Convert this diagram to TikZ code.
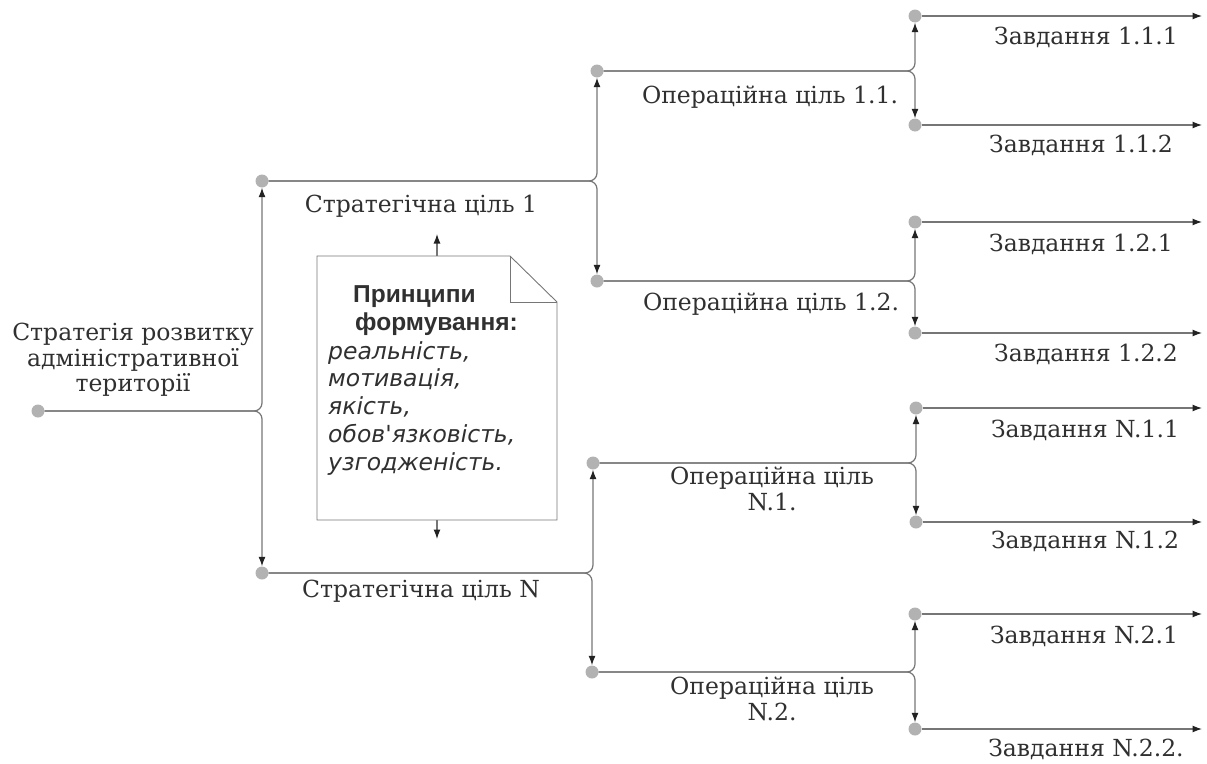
\documentclass[tikz,border=0pt]{standalone}
\usepackage{fontspec}
\setmainfont{DejaVu Serif}
\newfontfamily\headfont{Liberation Sans}
\newfontfamily\itemfont{DejaVu Sans}
\usetikzlibrary{arrows.meta}
\definecolor{linegray}{HTML}{767676}
\definecolor{dotgray}{HTML}{B2B2B2}
\definecolor{tipdark}{HTML}{222222}
\definecolor{inkgray}{HTML}{303030}
\begin{document}
\begin{tikzpicture}[x=1pt,y=-1pt,
  dot/.style={circle,fill=dotgray,draw=none,inner sep=0pt,minimum size=13pt},
  link/.style={draw=linegray,line width=1.2pt,rounded corners=8pt,
    -{Latex[length=9.5pt,width=7pt,color=tipdark]}},
  plain/.style={draw=linegray,line width=0.9pt},
  lbl/.style={font=\fontsize{23.5}{25.5}\selectfont,text=inkgray,align=center,inner sep=0pt},
  head/.style={font=\headfont\bfseries\fontsize{24.5}{28}\selectfont,text=inkgray,
    anchor=base west,inner sep=0pt},
  item/.style={font=\itemfont\itshape\fontsize{23.5}{28}\selectfont,text=inkgray,
    anchor=base west,inner sep=0pt}]
\useasboundingbox (0,0) rectangle (1207,763);

% tree dots
\node[dot] (root) at (38,411) {};
\node[dot] (s1) at (262,181) {};
\node[dot] (sN) at (262,573) {};
\node[dot] (o11) at (597,71) {};
\node[dot] (o12) at (597,281) {};
\node[dot] (oN1) at (593,463) {};
\node[dot] (oN2) at (592,672) {};
\node[dot] (t111) at (915,16) {};
\node[dot] (t112) at (915,125) {};
\node[dot] (t121) at (915,222) {};
\node[dot] (t122) at (915,333) {};
\node[dot] (tN11) at (916,408) {};
\node[dot] (tN12) at (916,522) {};
\node[dot] (tN21) at (915,614) {};
\node[dot] (tN22) at (915,729) {};

% task arrow ends
\coordinate (e111) at (1202,16);
\coordinate (e112) at (1202,125);
\coordinate (e121) at (1202,222);
\coordinate (e122) at (1202,333);
\coordinate (eN11) at (1202,408);
\coordinate (eN12) at (1202,522);
\coordinate (eN21) at (1202,614);
\coordinate (eN22) at (1202,729);

% branching connectors
\draw[link] (root) -| (s1);
\draw[link] (root) -| (sN);
\draw[link] (s1) -| (o11);
\draw[link] (s1) -| (o12);
\draw[link] (sN) -| (oN1);
\draw[link] (sN) -| (oN2);
\draw[link] (o11) -| (t111);
\draw[link] (o11) -| (t112);
\draw[link] (o12) -| (t121);
\draw[link] (o12) -| (t122);
\draw[link] (oN1) -| (tN11);
\draw[link] (oN1) -| (tN12);
\draw[link] (oN2) -| (tN21);
\draw[link] (oN2) -| (tN22);

% task arrows
\foreach \a/\b in {t111/e111,t112/e112,t121/e121,t122/e122,tN11/eN11,tN12/eN12,tN21/eN21,tN22/eN22}
  \draw[link] (\a) -- (\b);

% labels
\node[lbl] (lroot) at (133,360) {Стратегія розвитку\\адміністративної\\території};
\node[lbl] (ls1) at (421,206) {Стратегічна ціль 1};
\node[lbl] (lsN) at (421,591) {Стратегічна ціль N};
\node[lbl] (lo11) at (770,97) {Операційна ціль 1.1.};
\node[lbl] (lo12) at (771,304) {Операційна ціль 1.2.};
\node[lbl] (loN1) at (772,489) {Операційна ціль\\N.1.};
\node[lbl] (loN2) at (772,699) {Операційна ціль\\N.2.};
\node[lbl] (l111) at (1086,37) {Завдання 1.1.1};
\node[lbl] (l112) at (1081,145) {Завдання 1.1.2};
\node[lbl] (l121) at (1081,244) {Завдання 1.2.1};
\node[lbl] (l122) at (1086,354) {Завдання 1.2.2};
\node[lbl] (lN11) at (1085,430) {Завдання N.1.1};
\node[lbl] (lN12) at (1085,541) {Завдання N.1.2};
\node[lbl] (lN21) at (1084,636) {Завдання N.2.1};
\node[lbl] (lN22) at (1086,749) {Завдання N.2.2.};

% note with folded corner
\coordinate (nTL) at (317,256);
\coordinate (nF1) at (510,256);
\coordinate (nF2) at (557,302);
\coordinate (nBR) at (557,520);
\coordinate (nBL) at (317,520);
\coordinate (nFC) at (510,302);
\draw[plain,line join=miter] (nTL) -- (nF1) -- (nF2) -- (nBR) -- (nBL) -- cycle;
\draw[plain] (nF1) -- (nFC) -- (nF2);
\coordinate (ntop) at (437,256);
\coordinate (nbot) at (437,520);
\coordinate (nup) at (437,234);
\coordinate (ndown) at (437,539);
\draw[link] (ntop) -- (nup);
\draw[link] (nbot) -- (ndown);
\node[head] (h1) at (353,302) {Принципи};
\node[head] (h2) at (355,330) {формування:};
\node[item] (i1) at (328,359) {реальність,};
\node[item] (i2) at (328,386) {мотивація,};
\node[item] (i3) at (328,414) {якість,};
\node[item] (i4) at (328,442) {обов'язковість,};
\node[item] (i5) at (328,470) {узгодженість.};
\end{tikzpicture}
\end{document}
